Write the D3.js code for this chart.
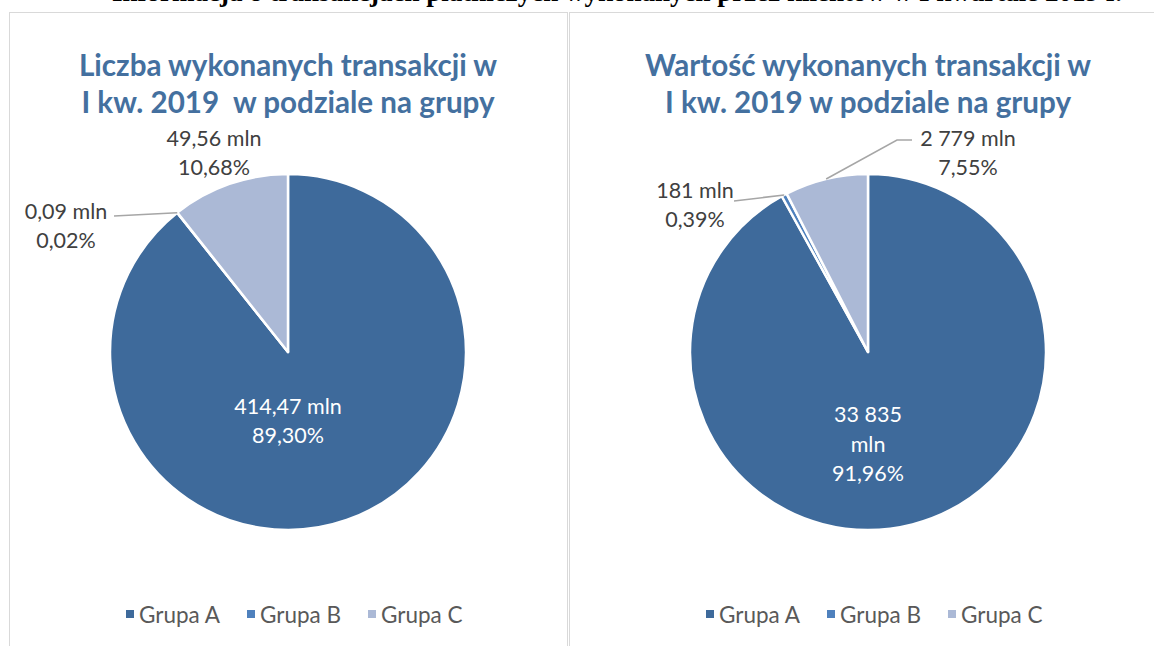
<!DOCTYPE html>
<html>
<head>
<meta charset="utf-8">
<script src="https://cdn.jsdelivr.net/npm/d3@7"></script>
<style>
  body { margin: 0; background: #fff; }
  svg { display: block; }
</style>
</head>
<body>
<div id="chartDiv"></div>
<script>
// data
var groups = ["Grupa A", "Grupa B", "Grupa C"];
var countValues = [414.47, 0.09, 49.56];          // mln transakcji
var countLabels = ["414,47 mln", "0,09 mln", "49,56 mln"];
var countPct = ["89,30%", "0,02%", "10,68%"];
var valueValues = [33835, 181, 2779];             // mln zl
var valueLabels = ["33 835 mln", "181 mln", "2 779 mln"];
var valuePct = ["91,96%", "0,39%", "7,55%"];
var titles = [["Liczba wykonanych transakcji w", "I kw. 2019  w podziale na grupy"],
              ["Wartość wykonanych transakcji w", "I kw. 2019 w podziale na grupy"]];

var colors = d3.scaleOrdinal().domain(groups).range(["#3e6a9b", "#4f81bd", "#abb9d6"]);

var svg = d3.select("#chartDiv").append("svg")
    .attr("width", 1154)
    .attr("height", 646);

// clipped heading of the page above
svg.append("text")
    .attr("x", 112).attr("y", 1)
    .attr("text-anchor", "start")
    .style("font-family", "Liberation Serif")
    .style("font-weight", "bold")
    .style("font-size", "27px")
    .text("Informacja o transakcjach płatniczych wykonanych przez klientów w I kwartale 2019 r.");

// chart frames
svg.append("rect").attr("x", 9.5).attr("y", 12.5).attr("width", 558).attr("height", 700)
    .attr("fill", "none").attr("stroke", "#d9d9d9");
svg.append("rect").attr("x", 569.5).attr("y", 12.5).attr("width", 700).attr("height", 700)
    .attr("fill", "none").attr("stroke", "#d9d9d9");

var radius = 178;
var pie = d3.pie().sort(null).value(function(d) { return d.v; });
var arc = d3.arc().innerRadius(0).outerRadius(radius);

var charts = [
  { cx: 288, title: titles[0], values: countValues, labels: countLabels, pct: countPct,
    lab: [ {dx: 0, dy: 54, lines: ["414,47 mln", "89,30%"], fill: "#fff"},
           {dx: -222, dy: -141, leader: [[-174, -136]]},
           {dx: -74, dy: -214} ] },
  { cx: 868, title: titles[1], values: valueValues, labels: valueLabels, pct: valuePct,
    lab: [ {dx: 0, dy: 62, lines: ["33 835", "mln", "91,96%"], fill: "#fff"},
           {dx: -173, dy: -162, leader: [[-134, -151]]},
           {dx: 100, dy: -214, leader: [[29, -212], [44, -212]]} ] }
];
var cy = 352;

charts.forEach(function(c) {
  var g = svg.append("g").attr("transform", "translate(" + c.cx + "," + cy + ")");

  // title
  g.selectAll(".title").data(c.title).enter().append("text")
      .attr("x", 0)
      .attr("y", function(d, i) { return -288 + i * 37; })
      .attr("text-anchor", "middle")
      .attr("dominant-baseline", "central")
      .style("font-family", "Lato")
      .style("font-weight", "bold")
      .style("font-size", "29.6px")
      .style("white-space", "pre")
      .style("fill", "#44709f")
      .text(function(d) { return d; });

  var data = groups.map(function(n, i) { return {name: n, v: c.values[i], i: i}; });
  var arcs = pie(data);

  g.selectAll("path").data(arcs).enter().append("path")
      .attr("d", arc)
      .attr("fill", function(d) { return colors(d.data.name); })
      .attr("stroke", "#fff")
      .attr("stroke-width", 2.5)
      .attr("stroke-linejoin", "round");

  arcs.forEach(function(a, i) {
    var L = c.lab[i];
    var lines = L.lines || [c.labels[i], c.pct[i]];
    var mid = (a.startAngle + a.endAngle) / 2;
    if (L.leader) {
      var edge = [radius * Math.sin(mid), -radius * Math.cos(mid)];
      var pts = [edge].concat(L.leader);
      g.append("path")
          .attr("d", d3.line()(pts.reverse()))
          .attr("fill", "none")
          .attr("stroke", "#a6a6a6")
          .attr("stroke-width", 1.5);
    }
    g.selectAll(".lab" + i).data(lines).enter().append("text")
        .attr("x", L.dx)
        .attr("y", function(d, k) { return L.dy + k * (lines.length > 2 ? 29.5 : 29); })
        .attr("text-anchor", "middle")
        .attr("dominant-baseline", "central")
        .style("font-family", "Lato")
        .style("font-size", "21.5px")
        .style("fill", L.fill || "#404040")
        .text(function(d) { return d; });
  });

  // legend
  var legX = [-162, -41, 80];
  var leg = g.selectAll(".leg").data(groups).enter().append("g")
      .attr("transform", function(d, i) { return "translate(" + legX[i] + "," + 262 + ")"; });
  leg.append("rect").attr("x", 0).attr("y", -4).attr("width", 8).attr("height", 8)
      .attr("fill", function(d) { return colors(d); });
  leg.append("text").attr("x", 13).attr("y", 0)
      .attr("dominant-baseline", "central")
      .style("font-family", "Lato")
      .style("font-size", "22.5px")
      .style("fill", "#595959")
      .text(function(d) { return d; });
});
</script>
</body>
</html>
